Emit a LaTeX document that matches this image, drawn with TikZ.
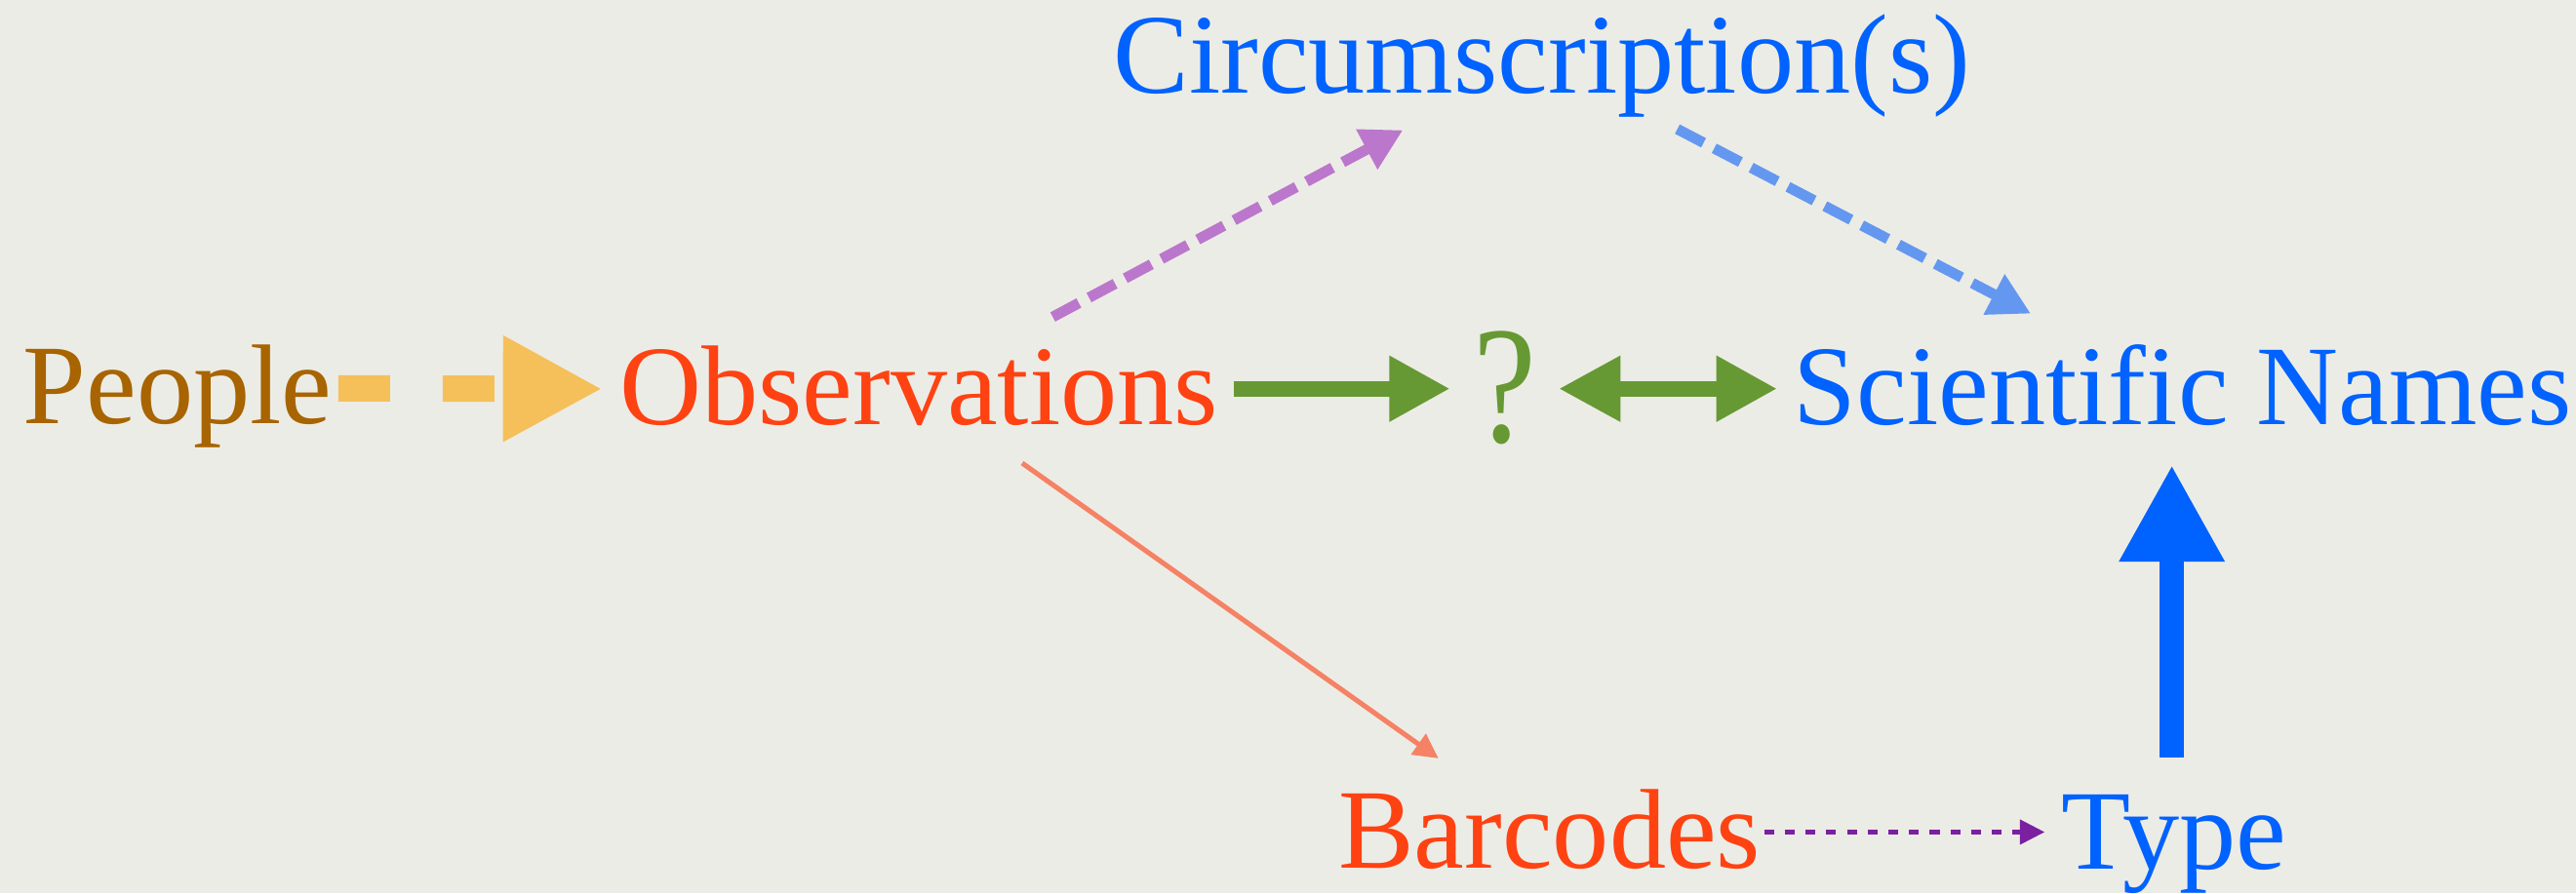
\documentclass[tikz,border=0pt]{standalone}
\usepackage{fontspec}
\setmainfont{Liberation Serif}
\usetikzlibrary{arrows.meta,calc}
\definecolor{bg}{RGB}{236,236,230}
\definecolor{cPeople}{RGB}{168,100,0}
\definecolor{cOrange}{RGB}{245,192,90}
\definecolor{cRed}{RGB}{255,66,18}
\definecolor{cGreen}{RGB}{102,153,51}
\definecolor{cBlue}{RGB}{0,98,255}
\definecolor{cViolet}{RGB}{187,119,204}
\definecolor{cSky}{RGB}{100,152,240}
\definecolor{cSalmon}{RGB}{245,130,100}
\definecolor{cPurple}{RGB}{122,32,160}
\begin{document}
\begin{tikzpicture}[x=0.01cm,y=-0.01cm,
  lbl/.style={anchor=base west,inner sep=0pt,font=\fontsize{19.64pt}{24pt}\selectfont},
  orangearr/.style={draw=cOrange,line width=0.16cm,dash pattern=on 0.315cm off 0.32cm,
    -{Triangle[length=0.606cm,width=0.603cm]}},
  greenarr/.style={draw=cGreen,line width=0.095cm,-{Triangle[length=0.37cm,width=0.376cm]}},
  greendbl/.style={draw=cGreen,line width=0.095cm,
    {Triangle[length=0.377cm,width=0.376cm]}-{Triangle[length=0.37cm,width=0.376cm]}},
  violetarr/.style={draw=cViolet,line width=0.064cm,dash pattern=on 0.18cm off 0.07cm,
    -{Triangle[length=0.25cm,width=0.26cm]}},
  skyarr/.style={draw=cSky,line width=0.064cm,dash pattern=on 0.18cm off 0.073cm,
    -{Triangle[length=0.253cm,width=0.26cm]}},
  salmonarr/.style={draw=cSalmon,line width=0.03cm,-{Triangle[length=0.15cm,width=0.15cm]}},
  bluearr/.style={draw=cBlue,line width=0.15cm,-{Triangle[length=0.59cm,width=0.60cm]}},
  dotarr/.style={draw=cPurple,line width=0.034cm,dash pattern=on 0.06cm off 0.066cm,
    -{Triangle[length=0.152cm,width=0.145cm]}}]
\fill[bg] (0,0) rectangle (1568,544);
\useasboundingbox (0,0) rectangle (1568,544);
\node[lbl,text=cPeople] (people) at (13.5,258) {People};
\node[lbl,text=cRed] (obs) at (376.5,258.3) {Observations};
\node[anchor=base west,inner sep=0pt,text=cGreen,font=\fontsize{29pt}{34pt}\selectfont] (q) at (896,269.3) {\scalebox{0.85}[1]{?}};
\node[lbl,text=cBlue] (sci) at (1091,258.3) {Scientific Names};
\node[lbl,text=cBlue] (circ) at (677,56.6) {Circumscription(s)};
\node[lbl,text=cRed] (bar) at (814,528.5) {Barcodes};
\node[lbl,text=cBlue] (type) at (1254,529.5) {Type};
\draw[orangearr] ($(people.base west)+(192.4,-21.5)$) -- ($(obs.base west)+(-9.7,-21.5)$);
\draw[greenarr] ($(obs.base west)+(374.4,-21.6)$) -- ($(q.base west)+(-13.3,-32.6)$);
\draw[greendbl] ($(q.base west)+(52.7,-32.6)$) -- ($(sci.base west)+(-9.2,-21.6)$);
\draw[violetarr] ($(obs.base west)+(264.3,-65.3)$) -- ($(circ.base west)+(177,22.6)$);
\draw[skyarr] ($(circ.base west)+(344,22)$) -- ($(sci.base west)+(145.2,-67.3)$);
\draw[salmonarr] ($(obs.base west)+(245.7,23.7)$) -- ($(bar.base west)+(61.6,-66.7)$);
\draw[bluearr] ($(type.base west)+(68,-68)$) -- ($(sci.base west)+(231,24.7)$);
\draw[dotarr] ($(bar.base west)+(259.8,-21.8)$) -- ($(type.base west)+(-9.3,-22.8)$);
\end{tikzpicture}
\end{document}
